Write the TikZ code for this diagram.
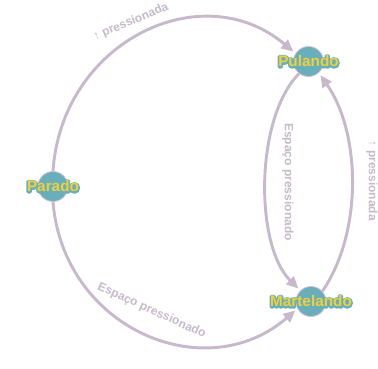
\documentclass[tikz,border=0pt]{standalone}
\usepackage{fontspec}
\setmainfont{Liberation Sans}
\usetikzlibrary{arrows.meta}

\definecolor{edgecol}{HTML}{C8B8CB}
\definecolor{labelcol}{HTML}{C6B9C8}
\definecolor{nodefill}{HTML}{68AEBB}
\definecolor{nodeline}{HTML}{D4C0D4}
\definecolor{nametext}{HTML}{F0D03A}

% state name: a stroked teal outline under the yellow letters
\newcommand{\strokeon}{\special{pdf:literal direct 1 Tr 2.4 w 1 j 0.408 0.682 0.733 RG}}
\newcommand{\strokeoff}{\special{pdf:literal direct 0 Tr 0 j}}
\newcommand{\statename}[1]{\rlap{\strokeon#1\strokeoff}\textcolor{nametext}{#1}}

\tikzset{
  state/.style={circle, fill=nodefill, draw=nodeline, line width=0.6pt,
    minimum size=22.5pt, inner sep=0pt},
  statetext/.style={font=\fontsize{11.5}{13}\selectfont\bfseries, inner sep=0pt},
  edge/.style={draw=edgecol, line width=2.2pt, shorten >=2pt,
    -{Triangle[length=9pt,width=8pt]}},
  edgelabel/.style={text=labelcol, font=\fontsize{9}{11}\selectfont\bfseries,
    inner sep=0pt}
}

\begin{document}
\begin{tikzpicture}[x=0.75pt, y=0.75pt]
  \useasboundingbox (0,0) rectangle (378,368);

  % states
  \node[state] (parado) at (53,181.5) {};
  \node[state] (pulando) at (308.5,306.5) {};
  \node[state] (martelando) at (311,66.5) {};

  % transitions
  \draw[edge] (parado.north) .. controls (61.6,325.5) and (201,394.1) .. (pulando.148);
  \draw[edge] (parado.south) .. controls (63.4,39.5) and (205.1,-20.6) .. (martelando.208);
  \draw[edge] (martelando.42) .. controls (363.3,136.8) and (360.4,235.8) .. (pulando.-48);
  \draw[edge] (pulando.232) .. controls (254.7,249.7) and (254.7,122.3) .. (martelando.134);

  % state names on top of the connectors
  \node[statetext] (paradotext) at (parado) {\statename{Parado}};
  \node[statetext] (pulandotext) at (pulando) {\statename{Pulando}};
  \node[statetext] (martelandotext) at (martelando) {\statename{Martelando}};

  % transition labels
  \node[edgelabel, rotate=22.6] (l1) at (131,346) {↑ pressionada};
  \node[edgelabel, rotate=-24.4] (l2) at (151.7,57.2) {Espaço pressionado};
  \node[edgelabel, rotate=-90] (l3) at (288,186) {Espaço pressionado};
  \node[edgelabel, rotate=-90] (l4) at (372,187) {↑ pressionada};
\end{tikzpicture}
\end{document}
